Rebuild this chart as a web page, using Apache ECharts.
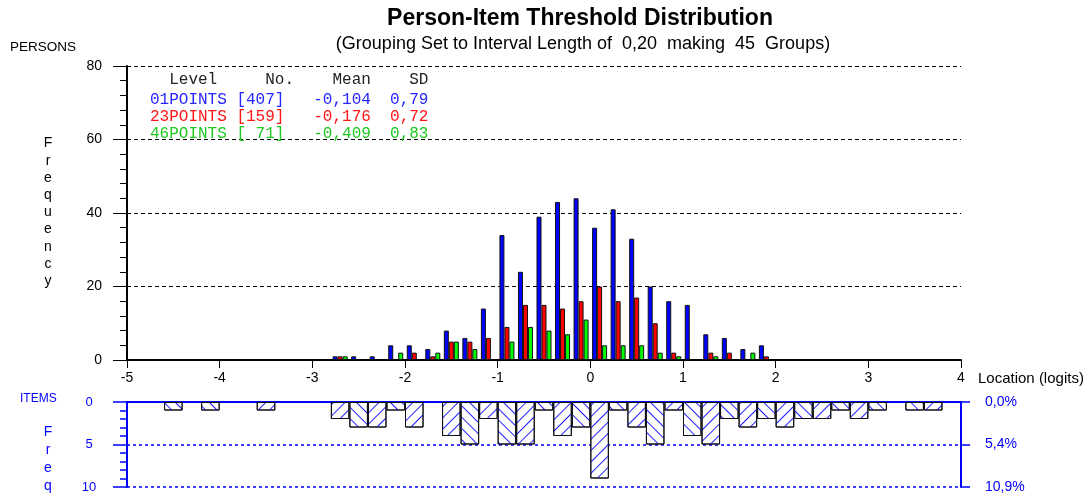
<!DOCTYPE html>
<html>
<head>
<meta charset="utf-8">
<title>Person-Item Threshold Distribution</title>
<script src="https://cdn.jsdelivr.net/npm/echarts@6/dist/echarts.min.js"></script>
<style>
  html, body { margin: 0; padding: 0; background: #fff; }
  #chart { width: 1089px; height: 499px; }
</style>
</head>
<body>
<div id="chart"></div>
<script>
// lower edge of each of the 45 groups (interval length 0,20)
var groupLow = [-5.0, -4.8, -4.6, -4.4, -4.2, -4.0, -3.8, -3.6, -3.4, -3.2,
  -3.0, -2.8, -2.6, -2.4, -2.2, -2.0, -1.8, -1.6, -1.4, -1.2,
  -1.0, -0.8, -0.6, -0.4, -0.2, 0.0, 0.2, 0.4, 0.6, 0.8,
  1.0, 1.2, 1.4, 1.6, 1.8, 2.0, 2.2, 2.4, 2.6, 2.8,
  3.0, 3.2, 3.4, 3.6, 3.8];
var intervalLength = 0.2;

// persons per group, one array per level
var points01 = [0,0,0,0,0,0,0,0,0,0, 0,1,1,1,4,4,3,8,6,14, 34,24,39,43,44,36,41,33,20,16, 15,7,6,3,4,0,0,0,0,0, 0,0,0,0,0];
var points23 = [0,0,0,0,0,0,0,0,0,0, 0,1,0,0,0,2,1,5,5,6, 9,15,15,14,16,20,16,17,10,2, 0,2,2,0,1,0,0,0,0,0, 0,0,0,0,0];
var points46 = [0,0,0,0,0,0,0,0,0,0, 0,1,0,0,2,0,2,5,3,0, 5,9,8,7,11,4,4,4,2,1, 0,1,0,2,0,0,0,0,0,0, 0,0,0,0,0];
// item thresholds per group
var items = [0,0,1,0,1,0,0,1,0,0, 0,2,3,3,1,3,0,4,5,2, 5,5,1,4,3,9,1,3,5,1, 4,5,2,3,2,3,2,2,1,2, 1,0,1,1,0];

var levelNames = ['01POINTS', '23POINTS', '46POINTS'];
var levelMeans = [-0.104, -0.176, -0.409];
var levelSDs = [0.79, 0.72, 0.83];

var locationTicks = [-5, -4, -3, -2, -1, 0, 1, 2, 3, 4];
var personTicks = [0, 20, 40, 60, 80];
var itemTicks = [0, 5, 10];

var personSeries = [points01, points23, points46];
var barColors = ['#0000ff', '#ff0000', '#00ff00'];
var textColors = ['#2626ff', '#ff1616', '#1ec81e'];
var BLUE = '#0000ff';
var SANS = "'Liberation Sans', Arial, sans-serif";
var MONO = "'Liberation Mono', 'Courier New', monospace";

function sum(arr) {
  return arr.reduce(function (a, b) { return a + b; }, 0);
}
function comma(v, d) {
  return v.toFixed(d).replace('.', ',');
}
function padLeft(s, n) {
  s = String(s);
  while (s.length < n) s = ' ' + s;
  return s;
}

// bars are placed on the middle of each group
function toBars(values) {
  var out = [];
  values.forEach(function (v, i) {
    if (v > 0) out.push([groupLow[i] + intervalLength / 2, v]);
  });
  return out;
}

// hatched item bars, direction alternates from group to group
function hatch(rot) {
  return {
    symbol: 'rect', symbolSize: 1, color: '#2020ff',
    dashArrayX: [1, 0], dashArrayY: [1, 6.2], rotation: rot
  };
}
function itemBars() {
  var out = [];
  items.forEach(function (v, i) {
    if (v > 0) {
      out.push({
        value: [groupLow[i] + intervalLength / 2, v],
        itemStyle: { decal: hatch(i % 2 ? -Math.PI / 4 : Math.PI / 4) }
      });
    }
  });
  return out;
}

var totalItems = sum(items);

// table in the upper left corner
var tableLines = [{ text: '  Level     No.    Mean    SD', color: '#222', y: 80 }];
levelNames.forEach(function (name, k) {
  tableLines.push({
    text: name + ' [' + padLeft(sum(personSeries[k]), 3) + ']   ' +
      padLeft(comma(levelMeans[k], 3), 6) + '  ' + comma(levelSDs[k], 2),
    color: textColors[k],
    y: 100 + k * 16.7
  });
});

function label(text, x, y, opts) {
  opts = opts || {};
  return {
    type: 'text', x: x, y: y, z: 100,
    style: {
      text: text,
      fill: opts.color || '#000',
      fontSize: opts.size || 14,
      fontWeight: opts.weight || 'normal',
      fontFamily: opts.family || SANS,
      lineHeight: opts.lineHeight,
      textAlign: opts.align || 'left', align: opts.align || 'left',
      textVerticalAlign: opts.valign || 'middle', verticalAlign: opts.valign || 'middle'
    }
  };
}

var graphics = [
  label('Person-Item Threshold Distribution', 580, 19, { size: 23, weight: 'bold', align: 'center' }),
  label('(Grouping Set to Interval Length of  0,20  making  45  Groups)', 583, 44, { size: 18, align: 'center' }),
  label('PERSONS', 10, 47, { size: 13.5 }),
  label('Frequency'.split('').join('\n'), 48, 135, { size: 14, align: 'center', valign: 'top', lineHeight: 17.2 }),
  label('Location (logits)', 978, 379, { size: 15 }),
  label('ITEMS', 20, 399, { size: 12, color: BLUE }),
  label('Freq'.split('').join('\n'), 48, 423, { size: 14, align: 'center', valign: 'top', lineHeight: 18, color: BLUE })
];
tableLines.forEach(function (l) {
  graphics.push(label(l.text, 150, l.y, { size: 16, family: MONO, color: l.color }));
});

var chart = echarts.init(document.getElementById('chart'));
chart.setOption({
  animation: false,
  textStyle: { fontFamily: SANS },
  grid: [
    { left: 127, top: 66, width: 834, height: 294 },
    { left: 127, top: 402, width: 834, height: 85 }
  ],
  xAxis: [{
    gridIndex: 0, type: 'value',
    min: locationTicks[0], max: locationTicks[locationTicks.length - 1], interval: 1,
    axisLine: { onZero: false, lineStyle: { color: '#000', width: 2 } },
    axisTick: { length: 8, lineStyle: { color: '#000', width: 1 } },
    axisLabel: { color: '#000', fontSize: 14, margin: 11 },
    splitLine: { show: false }
  }, {
    gridIndex: 1, type: 'value', position: 'top',
    min: locationTicks[0], max: locationTicks[locationTicks.length - 1], interval: 1,
    axisLine: { onZero: false, lineStyle: { color: BLUE, width: 2 } },
    axisTick: { show: false }, axisLabel: { show: false }, splitLine: { show: false }
  }],
  yAxis: [{
    gridIndex: 0, type: 'value',
    min: personTicks[0], max: personTicks[personTicks.length - 1], interval: 20,
    axisLine: { show: true, onZero: false, lineStyle: { color: '#000', width: 2 } },
    axisTick: { show: true, length: 14, lineStyle: { color: '#000', width: 1 } },
    minorTick: { show: true, splitNumber: 5, length: 7, lineStyle: { color: '#000', width: 1 } },
    axisLabel: { color: '#000', fontSize: 14, margin: 25 },
    splitLine: { lineStyle: { color: '#000', type: [4, 3], width: 1 } }
  }, {
    gridIndex: 1, type: 'value', inverse: true,
    min: itemTicks[0], max: itemTicks[itemTicks.length - 1], interval: 5,
    axisLine: { show: true, onZero: false, lineStyle: { color: BLUE, width: 2 } },
    axisTick: { show: true, length: 14, lineStyle: { color: BLUE, width: 1.5 } },
    minorTick: { show: true, splitNumber: 5, length: 7, lineStyle: { color: BLUE, width: 1.5 } },
    axisLabel: { color: BLUE, fontSize: 13, margin: 38, align: 'center' },
    splitLine: { lineStyle: { color: BLUE, type: [3, 3], width: 1.5 } }
  }, {
    gridIndex: 1, type: 'value', inverse: true, position: 'right',
    min: itemTicks[0], max: itemTicks[itemTicks.length - 1], interval: 5,
    axisLine: { show: true, onZero: false, lineStyle: { color: BLUE, width: 2 } },
    axisTick: { show: true, length: 9, lineStyle: { color: BLUE, width: 1.5 } },
    axisLabel: {
      color: BLUE, fontSize: 14, margin: 24,
      formatter: function (v) { return comma(v / totalItems * 100, 1) + '%'; }
    },
    splitLine: { show: false }
  }],
  series: levelNames.map(function (name, k) {
    return {
      name: name, type: 'bar', xAxisIndex: 0, yAxisIndex: 0,
      data: toBars(personSeries[k]),
      barWidth: 5, barGap: '0%',
      itemStyle: { color: barColors[k], borderColor: '#111', borderWidth: 1 }
    };
  }).concat([{
    name: 'ITEMS', type: 'bar', xAxisIndex: 1, yAxisIndex: 1,
    data: itemBars(),
    barWidth: 834 / groupLow.length,
    itemStyle: { color: '#fff', borderColor: '#111', borderWidth: 1 }
  }]),
  graphic: graphics
});
</script>
</body>
</html>
